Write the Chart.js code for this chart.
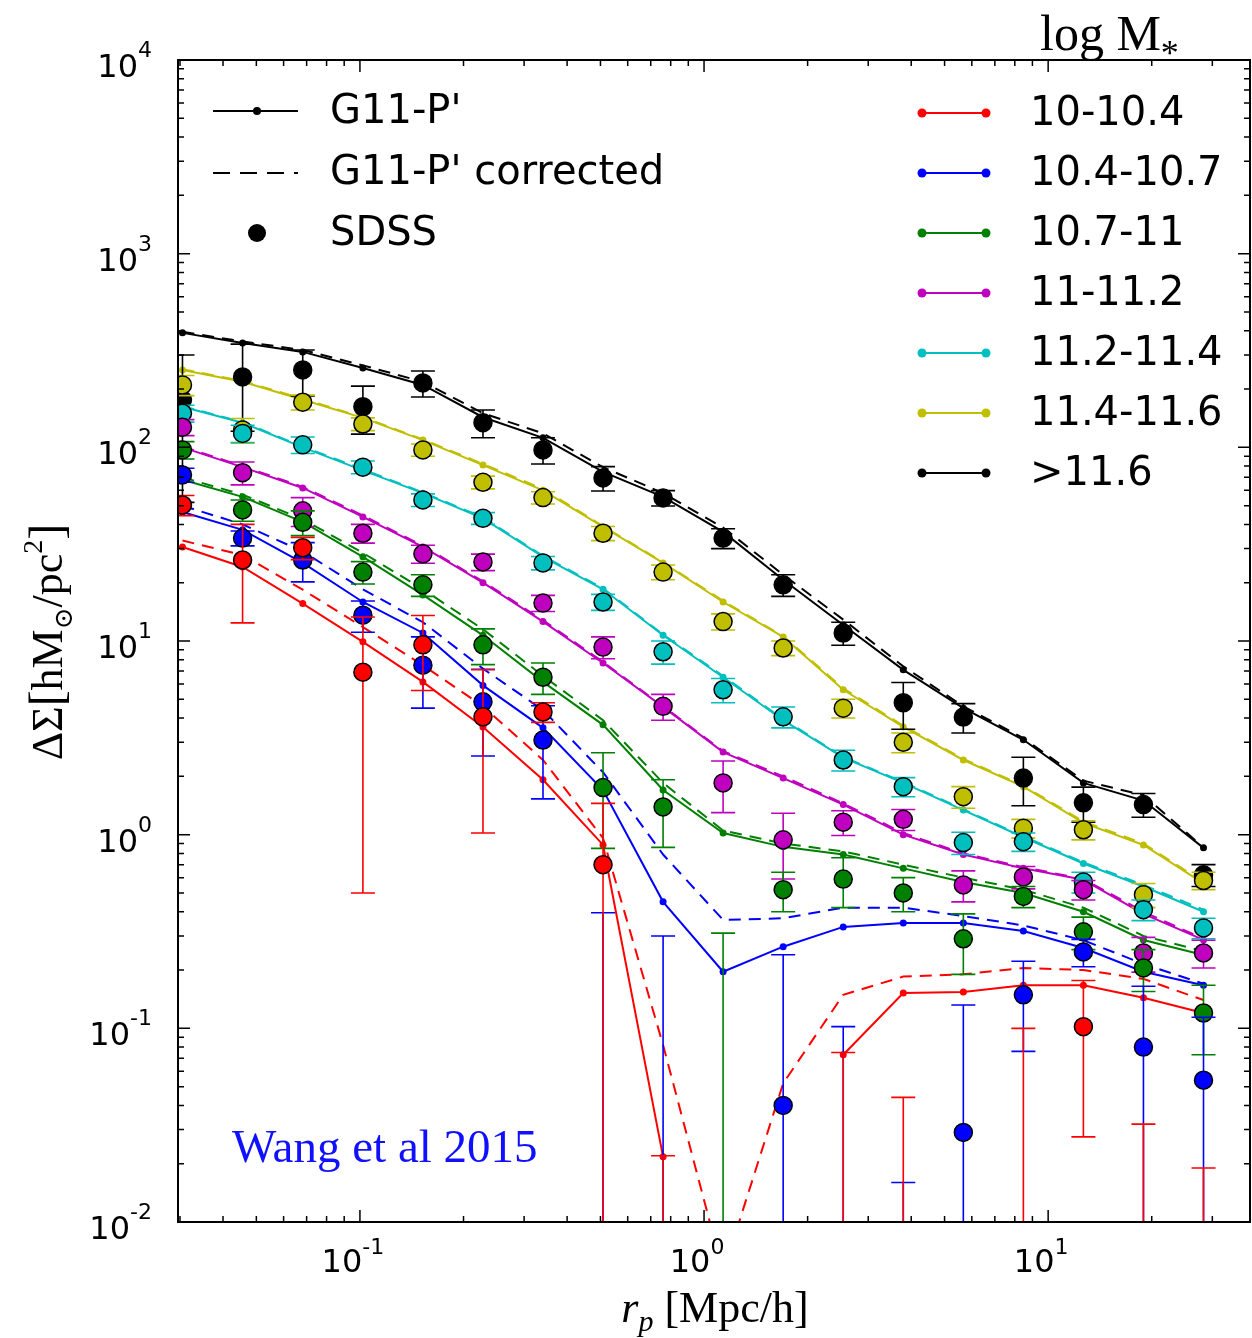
<!DOCTYPE html>
<html>
<head>
<meta charset="utf-8">
<script src="https://cdn.jsdelivr.net/npm/chart.js@4.4.0/dist/chart.umd.min.js"></script>
<style>
  html, body { margin: 0; padding: 0; background: #fff; overflow: hidden; }
  #wrap { width: 1252px; height: 1338px; }
  canvas { display: block; }
</style>
</head>
<body>
<div id="wrap"><canvas id="lensing" width="1252" height="1338"></canvas></div>
<script>
// projected radius r_p [Mpc/h]
const rp = [0.0305, 0.0456, 0.0682, 0.102, 0.1524, 0.2278, 0.3404, 0.5087, 0.7603, 1.136,
            1.698, 2.538, 3.793, 5.669, 8.472, 12.66, 18.92, 28.28];

// axis ticks
const xTicks = [0.1, 1, 10];
const xTickExp = ['-1', '0', '1'];
const yTicks = [0.01, 0.1, 1, 10, 100, 1000, 10000];
const yTickExp = ['-2', '-1', '0', '1', '2', '3', '4'];

// log M* bins
const binLabels = ['10-10.4', '10.4-10.7', '10.7-11', '11-11.2', '11.2-11.4', '11.4-11.6', '>11.6'];
const binColors = ['#ff0000', '#0000ff', '#008000', '#bf00bf', '#00bfbf', '#bfbf00', '#000000'];

// G11-P' model (solid)
const g11Bin1 = [30.6, 24.1, 15.6, 9.9, 6.15, 3.6, 1.92, 0.885, 0.0217, null, null, 0.073, 0.152, 0.154, 0.167, 0.167, 0.144, 0.12];
const g11Bin2 = [46.4, 37.5, 25.3, 15.9, 11.0, 5.9, 3.56, 1.70, 0.45, 0.196, 0.264, 0.334, 0.35, 0.35, 0.318, 0.26, 0.196, 0.167];
const g11Bin3 = [68, 55.5, 41.2, 27.2, 17.3, 10.7, 6.15, 3.69, 1.70, 1.02, 0.865, 0.79, 0.67, 0.57, 0.50, 0.40, 0.286, 0.239];
const g11Bin4 = [100, 79, 61.7, 43.7, 30.6, 20, 12.6, 7.7, 4.57, 2.67, 1.96, 1.43, 1.0, 0.79, 0.67, 0.585, 0.39, 0.286];
const g11Bin5 = [162, 134, 100, 76, 58, 43, 27.2, 18.5, 10.7, 6.5, 3.9, 2.5, 1.85, 1.34, 0.97, 0.71, 0.54, 0.40];
const g11Bin6 = [251, 218, 176, 142, 109, 81, 60, 38.8, 25.3, 15.9, 10.5, 5.6, 3.6, 2.43, 1.77, 1.15, 0.885, 0.56];
const g11Bin7 = [390, 346, 311, 257, 210, 143, 112, 74.7, 55.5, 36.6, 20.7, 12.1, 7.1, 4.5, 3.09, 1.85, 1.5, 0.855];

// G11-P' corrected (dashed)
const corrBin1 = [33, 27.8, 18.4, 11.8, 7.5, 4.6, 2.43, 0.96, 0.082, 0.0055, 0.052, 0.149, 0.185, 0.19, 0.205, 0.2, 0.18, 0.14];
const corrBin2 = [50, 40, 29, 18.5, 12.5, 7.2, 4.4, 2.1, 0.79, 0.363, 0.37, 0.42, 0.42, 0.38, 0.34, 0.285, 0.215, 0.17];
const corrBin3 = [70, 57, 42.5, 28.5, 18.5, 11.5, 6.6, 3.9, 1.85, 1.05, 0.9, 0.82, 0.7, 0.6, 0.52, 0.42, 0.3, 0.25];
const corrBin4 = [101, 80, 62.5, 44.5, 31, 20.3, 12.8, 7.8, 4.6, 2.7, 2.0, 1.45, 1.02, 0.8, 0.68, 0.59, 0.4, 0.29];
const corrBin5 = [163, 135, 101, 77, 58.5, 43.5, 27.5, 18.7, 10.8, 6.6, 3.95, 2.52, 1.87, 1.35, 0.98, 0.72, 0.55, 0.41];
const corrBin6 = [253, 220, 178, 143, 110, 82, 61, 39.2, 25.5, 16.1, 10.6, 5.7, 3.65, 2.46, 1.79, 1.17, 0.9, 0.57];
const corrBin7 = [395, 352, 318, 265, 218, 150, 118, 79, 58, 38.5, 22, 12.9, 7.4, 4.6, 3.15, 1.9, 1.6, 0.86];

// SDSS measurements and 1-sigma errors (negative values fall off the log axis)
const sdssBin1 = [50.4, 26.2, 30.3, 6.9, 9.55, 4.06, 4.3, 0.70, -0.02, null, null, -0.02, -0.02, null, -0.02, 0.102, -0.02, -0.02];
const sdssErrBin1 = [6, 13.8, 4, 6.4, 4, 3.04, 0.5, 0.75, 0.042, null, null, 0.095, 0.064, null, 0.12, 0.0745, 0.052, 0.039];
const sdssBin2 = [72, 34, 26.2, 13.6, 7.5, 4.85, 3.08, -0.1, -0.1, null, 0.040, -0.05, -0.05, 0.029, 0.149, 0.248, 0.080, 0.054];
const sdssErrBin2 = [6, 3, 6, 2.5, 3, 2.3, 1.55, 0.495, 0.4, null, 0.2, 0.152, 0.066, 0.103, 0.073, 0.04, 0.085, 0.06];
const sdssBin3 = [97, 47.5, 41, 22.7, 19.5, 9.55, 6.5, 1.75, 1.39, -0.05, 0.52, 0.59, 0.50, 0.29, 0.48, 0.315, 0.205, 0.12];
const sdssErrBin3 = [10, 6, 6, 3, 2.5, 2, 1.2, 0.9, 0.53, 0.36, 0.12, 0.17, 0.1, 0.1, 0.06, 0.06, 0.05, 0.047];
const sdssBin4 = [127, 74, 47, 36, 28.2, 25.6, 15.7, 9.3, 4.6, 1.85, 0.94, 1.16, 1.2, 0.55, 0.605, 0.52, 0.245, 0.245];
const sdssErrBin4 = [12, 10, 8, 4, 3, 2.5, 1.5, 1.2, 0.7, 0.55, 0.35, 0.17, 0.15, 0.1, 0.08, 0.06, 0.05, 0.04];
const sdssBin5 = [150, 118, 103, 79, 53.5, 43, 25.3, 15.9, 8.8, 5.6, 4.06, 2.43, 1.77, 0.91, 0.92, 0.57, 0.41, 0.33];
const sdssErrBin5 = [15, 12, 10, 6, 4, 3, 2, 1.5, 1.2, 0.8, 0.5, 0.3, 0.2, 0.12, 0.1, 0.07, 0.05, 0.04];
const sdssBin6 = [210, 123, 171, 132, 97, 66, 55, 36, 22.7, 12.6, 9.2, 4.5, 3.0, 1.57, 1.08, 1.06, 0.49, 0.58];
const sdssErrBin6 = [25, 18, 15, 10, 7, 5, 4, 3, 2, 1.2, 0.8, 0.5, 0.35, 0.2, 0.12, 0.12, 0.07, 0.06];
const sdssBin7 = [176, 231, 251, 162, 215, 134, 97, 69.5, 54.8, 34, 19.5, 11.0, 4.8, 4.05, 1.96, 1.46, 1.43, 0.62];
const sdssErrBin7 = [124, 110, 67, 45, 33, 22, 15, 10, 5, 4, 2.5, 1.5, 1.3, 0.7, 0.55, 0.3, 0.2, 0.08];

const g11All = [g11Bin1, g11Bin2, g11Bin3, g11Bin4, g11Bin5, g11Bin6, g11Bin7];
const corrAll = [corrBin1, corrBin2, corrBin3, corrBin4, corrBin5, corrBin6, corrBin7];
const sdssAll = [sdssBin1, sdssBin2, sdssBin3, sdssBin4, sdssBin5, sdssBin6, sdssBin7];
const sdssErrAll = [sdssErrBin1, sdssErrBin2, sdssErrBin3, sdssErrBin4, sdssErrBin5, sdssErrBin6, sdssErrBin7];

const SANS = "'DejaVu Sans', sans-serif";
const SERIF = "'Liberation Serif', 'DejaVu Serif', serif";

function toPoints(values) {
    return rp.map((r, i) => ({ x: r, y: values[i] }));
}

// Build the datasets: model lines, corrected (dashed) lines, SDSS points
const datasets = [];
binLabels.forEach((label, b) => {
    datasets.push({
        label: 'SDSS ' + label,
        data: toPoints(sdssAll[b]),
        errors: sdssErrAll[b],
        showLine: false,
        pointRadius: 9,
        pointBackgroundColor: binColors[b],
        pointBorderColor: '#000',
        pointBorderWidth: 1.5,
        order: 0,
        clip: 0
    });
    datasets.push({
        label: "G11-P' " + label,
        data: toPoints(g11All[b]),
        showLine: true,
        spanGaps: false,
        borderColor: binColors[b],
        borderWidth: 2,
        pointRadius: 3.5,
        pointBorderWidth: 0,
        pointBackgroundColor: binColors[b],
        order: 1,
        clip: 0
    });
    datasets.push({
        label: "G11-P' corrected " + label,
        data: toPoints(corrAll[b]),
        showLine: true,
        borderColor: binColors[b],
        borderWidth: 2,
        borderDash: [12, 8],
        pointRadius: 0,
        order: 2,
        clip: 0
    });
});

// Draw a row of text pieces (for super/subscripts)
function drawRuns(ctx, runs, x, y, align) {
    let w = 0;
    runs.forEach(r => { ctx.font = r.font; r.w = ctx.measureText(r.t).width; w += r.w; });
    let cx = align === 'center' ? x - w / 2 : (align === 'right' ? x - w : x);
    runs.forEach(r => {
        ctx.font = r.font;
        ctx.fillText(r.t, cx, y + (r.dy || 0));
        cx += r.w;
    });
}

// Error bars for the SDSS points, drawn just before each SDSS dataset
const errorBars = {
    id: 'errorBars',
    beforeDatasetDraw(chart, args) {
        const ds = chart.data.datasets[args.index];
        if (!ds.errors) return;
        const { ctx, chartArea: a, scales: { x, y } } = chart;
        ctx.save();
        ctx.beginPath();
        ctx.rect(a.left, a.top, a.right - a.left, a.bottom - a.top);
        ctx.clip();
        ctx.strokeStyle = ds.pointBackgroundColor;
        ctx.lineWidth = 1.6;
        ds.data.forEach((p, i) => {
            const s = ds.errors[i];
            if (p.y === null || s === null) return;
            const px = x.getPixelForValue(p.x);
            const hi = p.y + s, lo = p.y - s;
            const yHi = y.getPixelForValue(hi);
            const yLo = lo > 0 ? y.getPixelForValue(lo) : a.bottom + 5;
            ctx.beginPath();
            ctx.moveTo(px, yHi); ctx.lineTo(px, yLo);
            ctx.moveTo(px - 12, yHi); ctx.lineTo(px + 12, yHi);
            if (lo > 0) { ctx.moveTo(px - 12, yLo); ctx.lineTo(px + 12, yLo); }
            ctx.stroke();
        });
        ctx.restore();
    }
};

// Frame, inward ticks, tick labels, axis titles, legends and notes
const frameAndText = {
    id: 'frameAndText',
    afterDraw(chart) {
        const { ctx, chartArea: a, scales: { x, y } } = chart;
        ctx.save();
        ctx.strokeStyle = '#000';
        ctx.fillStyle = '#000';

        // minor / major ticks on all four sides
        ctx.lineWidth = 1.5;
        ctx.beginPath();
        for (let e = -2; e <= 4; e++) {
            for (let m = 1; m <= 9; m++) {
                const v = m * Math.pow(10, e);
                if (v < y.min * 0.999 || v > y.max * 1.001) continue;
                const py = y.getPixelForValue(v);
                const len = m === 1 ? 12 : 6;
                ctx.moveTo(a.left, py); ctx.lineTo(a.left + len, py);
                ctx.moveTo(a.right, py); ctx.lineTo(a.right - len, py);
            }
        }
        for (let e = -2; e <= 1; e++) {
            for (let m = 1; m <= 9; m++) {
                const v = m * Math.pow(10, e);
                if (v < x.min || v > x.max) continue;
                const px = x.getPixelForValue(v);
                const len = m === 1 ? 12 : 6;
                ctx.moveTo(px, a.bottom); ctx.lineTo(px, a.bottom - len);
                ctx.moveTo(px, a.top); ctx.lineTo(px, a.top + len);
            }
        }
        ctx.stroke();

        ctx.lineWidth = 2;
        ctx.strokeRect(a.left, a.top, a.right - a.left, a.bottom - a.top);

        // tick labels
        ctx.textBaseline = 'alphabetic';
        yTicks.forEach((v, i) => {
            const py = y.getPixelForValue(v);
            drawRuns(ctx, [
                { t: '10', font: '32px ' + SANS, dy: 17 },
                { t: yTickExp[i], font: '22px ' + SANS, dy: -3 }
            ], 152, py, 'right');
        });
        xTicks.forEach((v, i) => {
            const px = x.getPixelForValue(v);
            drawRuns(ctx, [
                { t: '10', font: '32px ' + SANS, dy: 0 },
                { t: xTickExp[i], font: '22px ' + SANS, dy: -18 }
            ], px - 7, 1272, 'center');
        });

        // x axis title
        drawRuns(ctx, [
            { t: 'r', font: 'italic 44px ' + SERIF },
            { t: 'p', font: 'italic 30px ' + SERIF, dy: 9 },
            { t: ' [Mpc/h]', font: '44px ' + SERIF }
        ], 715, 1322, 'center');

        // y axis title (rotated)
        ctx.save();
        ctx.translate(62, 642);
        ctx.rotate(-Math.PI / 2);
        drawRuns(ctx, [
            { t: 'ΔΣ', font: '44px ' + SERIF },
            { t: '[', font: '48px ' + SERIF },
            { t: 'hM', font: '44px ' + SERIF },
            { t: '⊙', font: '26px ' + SERIF, dy: 10 },
            { t: '/pc', font: '44px ' + SERIF },
            { t: '2', font: '28px ' + SERIF, dy: -20 },
            { t: ']', font: '48px ' + SERIF }
        ], 0, 0, 'center');
        ctx.restore();

        // log M* header
        drawRuns(ctx, [
            { t: 'log M', font: '50px ' + SERIF },
            { t: '*', font: '36px ' + SERIF, dy: 15 }
        ], 1040, 50, 'left');

        // note
        ctx.fillStyle = '#1010ff';
        ctx.font = '47px ' + SERIF;
        ctx.fillText('Wang et al 2015', 232, 1162);
        ctx.fillStyle = '#000';

        // left legend
        ctx.textBaseline = 'middle';
        ctx.font = '40px ' + SANS;
        ctx.lineWidth = 2;
        ctx.beginPath(); ctx.moveTo(213, 111); ctx.lineTo(298, 111); ctx.stroke();
        ctx.beginPath(); ctx.arc(257, 111, 4, 0, 2 * Math.PI); ctx.fill();
        ctx.fillText("G11-P'", 330, 113);
        ctx.setLineDash([17, 10]);
        ctx.beginPath(); ctx.moveTo(213, 173); ctx.lineTo(298, 173); ctx.stroke();
        ctx.setLineDash([]);
        ctx.fillText("G11-P' corrected", 330, 174);
        ctx.beginPath(); ctx.arc(257, 233, 9, 0, 2 * Math.PI); ctx.fill();
        ctx.fillText('SDSS', 330, 235);

        // right legend (stellar mass bins)
        binLabels.forEach((label, b) => {
            const ly = 113 + 60 * b;
            ctx.strokeStyle = binColors[b];
            ctx.fillStyle = binColors[b];
            ctx.beginPath(); ctx.moveTo(922, ly); ctx.lineTo(986, ly); ctx.stroke();
            ctx.beginPath(); ctx.arc(922, ly, 4.5, 0, 2 * Math.PI); ctx.fill();
            ctx.beginPath(); ctx.arc(986, ly, 4.5, 0, 2 * Math.PI); ctx.fill();
            ctx.fillStyle = '#000';
            ctx.fillText(label, 1030, ly + 2);
        });
        ctx.restore();
    }
};

new Chart(document.getElementById('lensing'), {
    type: 'scatter',
    data: { datasets: datasets },
    options: {
        responsive: false,
        animation: false,
        layout: { autoPadding: false, padding: { left: 178, top: 60, right: 2, bottom: 116 } },
        elements: { line: { tension: 0 } },
        plugins: { legend: { display: false }, tooltip: { enabled: false } },
        scales: {
            x: { type: 'logarithmic', min: 0.0296, max: 38.6, display: false },
            y: { type: 'logarithmic', min: 0.01, max: 10000, display: false }
        }
    },
    plugins: [errorBars, frameAndText]
});
</script>
</body>
</html>
